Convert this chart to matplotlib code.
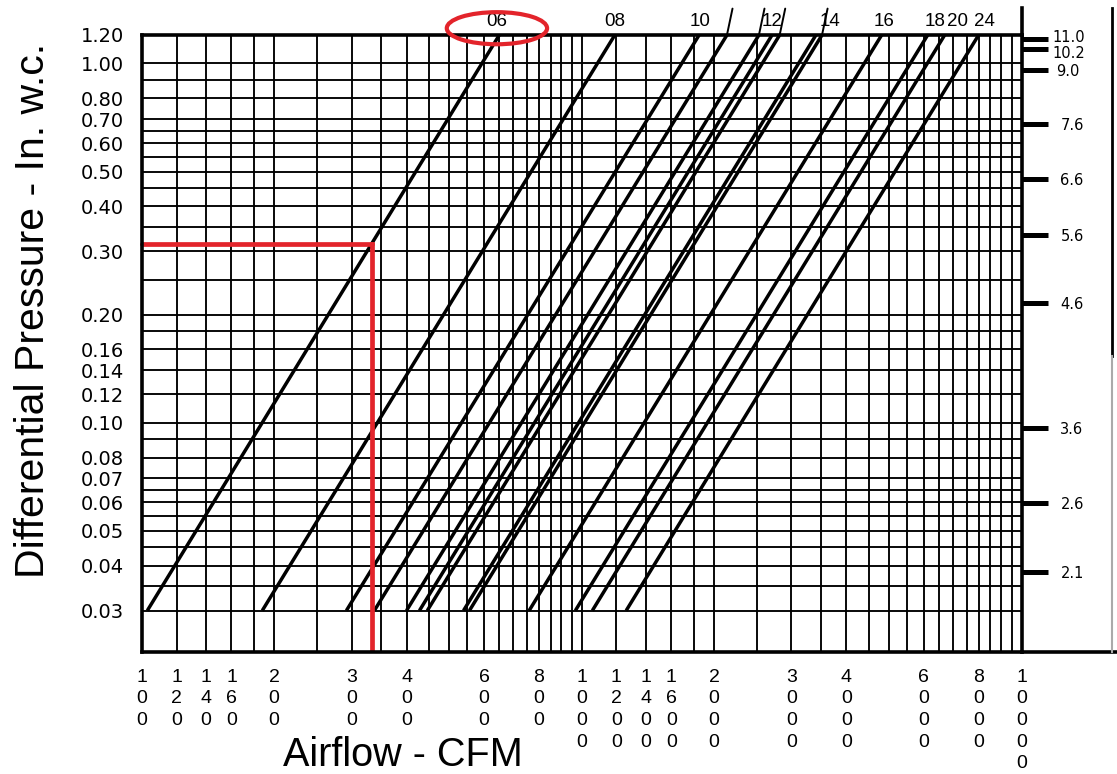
import numpy as np
import matplotlib.pyplot as plt
from matplotlib.patches import Ellipse
from matplotlib.transforms import ScaledTranslation

plt.rcParams['font.family'] = ['Liberation Sans', 'DejaVu Sans']

# grid lines of the log-log chart
x_grid = [100, 120, 140, 160, 180, 200, 250, 300, 350, 400, 450, 500, 550, 600, 650,
          700, 750, 800, 850, 900, 950, 1000, 1200, 1400, 1600, 1800, 2000, 2500, 3000,
          3500, 4000, 4500, 5000, 5500, 6000, 6500, 7000, 7500, 8000, 8500, 9000, 9500, 10000]
y_grid = [1.2, 1.0, 0.9, 0.8, 0.7, 0.65, 0.6, 0.55, 0.5, 0.45, 0.4, 0.35, 0.3, 0.25, 0.2,
          0.18, 0.16, 0.14, 0.12, 0.10, 0.09, 0.08, 0.07, 0.065, 0.06, 0.055, 0.05, 0.045,
          0.04, 0.035, 0.03]

# labelled ticks
x_ticks = [100, 120, 140, 160, 200, 300, 400, 600, 800, 1000, 1200, 1400, 1600, 2000,
           3000, 4000, 6000, 8000, 10000]
y_ticks = [1.20, 1.00, 0.80, 0.70, 0.60, 0.50, 0.40, 0.30, 0.20, 0.16, 0.14, 0.12,
           0.10, 0.08, 0.07, 0.06, 0.05, 0.04, 0.03]

# right hand scale
right_labels = ['11.0', '10.2', '9.0', '7.6', '6.6', '5.6', '4.6', '3.6', '2.6', '2.1']
right_press = [1.17, 1.097, 0.959, 0.678, 0.477, 0.333, 0.2154, 0.0967, 0.0598, 0.0384]

# size curves: airflow (CFM) at 0.03 and at 1.20 in. w.c.
p_low, p_high = 0.03, 1.20
q_low = [103, 188, 292, 338, 400, 428, 446, 539, 556, 760, 968, 1058, 1263]
q_high = [650, 1190, 1850, 2140, 2530, 2710, 2820, 3410, 3520, 4810, 6120, 6690, 7990]
# curves whose stroke runs on above the frame
overrun = [3, 4, 6, 8]

# size labels above the chart
size_labels = ['06', '08', '10', '12', '14', '16', '18', '20', '24']
size_label_q = [642, 1191, 1858, 2707, 3667, 4864, 6353, 7165, 8252]

# example reading
ex_q, ex_p = 333, 0.315

RED = '#e3242b'

fig = plt.figure(figsize=(11.17, 7.74), dpi=100)
ax = fig.add_axes([141.7 / 1117, 1 - 652 / 774, 879.8 / 1117, 617 / 774])
ax.set_xscale('log')
ax.set_yscale('log')
ax.set_xlim(100, 10000)
ax.set_ylim(0.023, 1.2)

ax.vlines(x_grid, 0.023, 1.2, colors='black', lw=1.35, zorder=1)
ax.hlines(y_grid, 100, 10000, colors='black', lw=1.35, zorder=1)

for ql, qh in zip(q_low, q_high):
    ax.plot([ql, qh], [p_low, p_high], color='black', lw=2.5, zorder=3,
            solid_capstyle='butt')
for i in overrun:
    ax.annotate('', xy=(q_high[i], p_high), xytext=(4, 19), textcoords='offset points',
                arrowprops=dict(arrowstyle='-', color='black', lw=1.4,
                                shrinkA=0, shrinkB=0),
                annotation_clip=False)

# red example
ax.plot([100, ex_q], [ex_p, ex_p], color=RED, lw=3.4, zorder=4, clip_on=False,
        solid_capstyle='round')
ax.plot([ex_q, ex_q], [ex_p, 0.023], color=RED, lw=3.4, zorder=4)

for s in ax.spines.values():
    s.set_linewidth(2.6)
    s.set_zorder(5)

ax.minorticks_off()
ax.set_xticks(x_ticks)
ax.set_xticklabels(['\n'.join(str(v)) for v in x_ticks], fontsize=14, linespacing=1.36)
ax.set_yticks(y_ticks)
ax.set_yticklabels(['%.2f' % v for v in y_ticks], fontsize=14, family='DejaVu Sans')
ax.tick_params(axis='x', length=0, pad=12)
ax.tick_params(axis='y', length=0, pad=13)

fig.text(403 / 1117, 1 - 755 / 774, 'Airflow - CFM', fontsize=28.5,
         ha='center', va='center')
fig.text(33 / 1117, 1 - 310 / 774, 'Differential Pressure - In. w.c.', fontsize=29.5,
         rotation=90, ha='center', va='center')

# right scale
ax2 = ax.twinx()
ax2.set_yscale('log')
ax2.set_ylim(0.023, 1.2)
ax2.minorticks_off()
ax2.set_yticks(right_press)
ax2.set_yticklabels(right_labels, fontsize=10.5, family='DejaVu Sans')
ax2.tick_params(axis='y', direction='out', length=19, width=3.6, pad=9)
for s in ax2.spines.values():
    s.set_visible(False)
# the three crowded labels at the top sit a little further left and apart
for lbl, (dx, dy) in zip(ax2.get_yticklabels()[:3], [(-6, 2), (-6, -2.5), (-3, 0)]):
    lbl.set_transform(lbl.get_transform() +
                      ScaledTranslation(dx / 72, dy / 72, fig.dpi_scale_trans))

# size labels
for lab, q in zip(size_labels, size_label_q):
    ax.annotate(lab, (q, 1.2), xytext=(0, 10), textcoords='offset points',
                ha='center', va='center', fontsize=13.5, annotation_clip=False)

# ellipse round the 06 label
lx = (np.log10(size_label_q[0]) - 2) / 2
ax.add_patch(Ellipse((lx, 1.011), 0.114, 0.052, transform=ax.transAxes,
                     fill=False, edgecolor=RED, lw=3, clip_on=False, zorder=6))

# right border extends up, and the outer frame of the right scale
ax.plot([1, 1], [1, 1.044], transform=ax.transAxes, color='black', lw=2.6, clip_on=False)
ax.plot([1, 1.108], [0, 0], transform=ax.transAxes, color='black', lw=2.6, clip_on=False)
ax.plot([1.103, 1.103], [1.044, 0.48], transform=ax.transAxes, color='black', lw=2,
        clip_on=False)
ax.plot([1.103, 1.103], [0.48, 0.0], transform=ax.transAxes, color='#aaaaaa', lw=1.5,
        clip_on=False)

fig.savefig('out.png', dpi=100)
